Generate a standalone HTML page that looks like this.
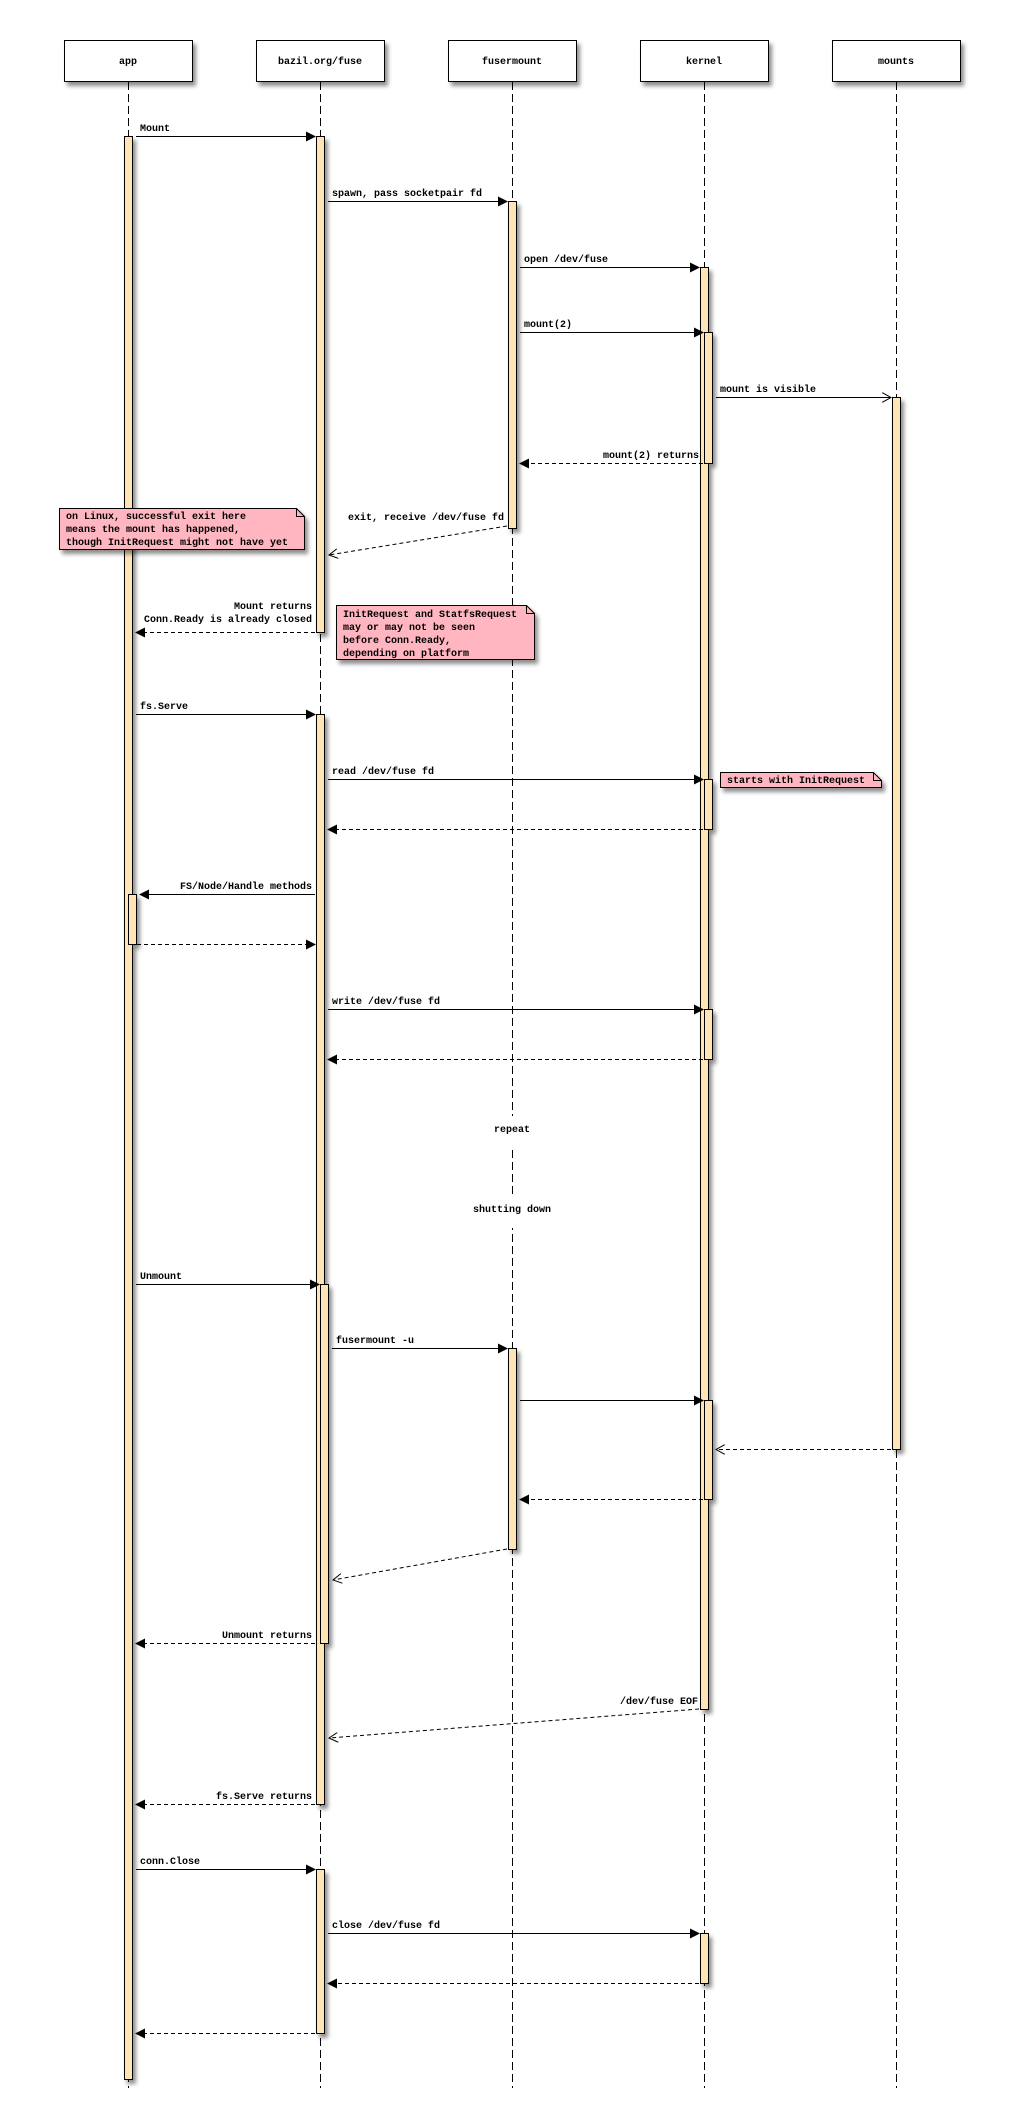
<!DOCTYPE html>
<html><head><meta charset="utf-8"><style>
html,body{margin:0;padding:0;background:#fff}
svg{display:block}
text{font-family:"Liberation Mono",monospace;font-weight:bold;font-size:10px;fill:#000}
</style></head><body>
<svg width="1024" height="2108" viewBox="0 0 1024 2108" xmlns="http://www.w3.org/2000/svg">
<defs>
<filter id="sh" x="-10%" y="-10%" width="130%" height="140%"><feGaussianBlur in="SourceAlpha" stdDeviation="2"/><feOffset dx="3" dy="4"/><feComponentTransfer><feFuncA type="linear" slope="0.45"/></feComponentTransfer><feMerge><feMergeNode/><feMergeNode in="SourceGraphic"/></feMerge></filter>
<marker id="f" markerWidth="10" markerHeight="10" refX="9" refY="5" orient="auto" markerUnits="userSpaceOnUse"><path d="M0,0 L10,5 L0,10 z" fill="#000"/></marker>
<marker id="o" markerWidth="10" markerHeight="10" refX="9" refY="5" orient="auto" markerUnits="userSpaceOnUse"><path d="M0,0 L9,5 L0,10" fill="none" stroke="#000" stroke-width="1"/></marker>
</defs>

<g filter="url(#sh)" fill="#fff" stroke="#000" stroke-width="1">
<rect x="64.5" y="40.5" width="128" height="41"/>
<rect x="256.5" y="40.5" width="128" height="41"/>
<rect x="448.5" y="40.5" width="128" height="41"/>
<rect x="640.5" y="40.5" width="128" height="41"/>
<rect x="832.5" y="40.5" width="128" height="41"/>
</g>
<g text-anchor="middle">
<text x="128" y="64">app</text>
<text x="320" y="64">bazil.org/fuse</text>
<text x="512" y="64">fusermount</text>
<text x="704" y="64">kernel</text>
<text x="896" y="64">mounts</text>
</g>

<g stroke="#000" stroke-width="1" stroke-dasharray="8,4">
<line x1="128.5" y1="82" x2="128.5" y2="2088"/>
<line x1="320.5" y1="82" x2="320.5" y2="2088"/>
<line x1="512.5" y1="82" x2="512.5" y2="2088"/>
<line x1="704.5" y1="82" x2="704.5" y2="2088"/>
<line x1="896.5" y1="82" x2="896.5" y2="2088"/>
</g>

<g fill="#ffe4b5" stroke="#000" stroke-width="1" filter="url(#sh)">
<rect x="124.5" y="136.5" width="8" height="1943"/>
<rect x="128.5" y="894.5" width="8" height="50"/>
<rect x="316.5" y="136.5" width="8" height="496"/>
<rect x="316.5" y="714.5" width="8" height="1090"/>
<rect x="320.5" y="1284.5" width="8" height="359"/>
<rect x="316.5" y="1869.5" width="8" height="164"/>
<rect x="508.5" y="201.5" width="8" height="327"/>
<rect x="508.5" y="1348.5" width="8" height="201"/>
<rect x="700.5" y="267.5" width="8" height="1442"/>
<rect x="704.5" y="332.5" width="8" height="131"/>
<rect x="704.5" y="779.5" width="8" height="50"/>
<rect x="704.5" y="1009.5" width="8" height="50"/>
<rect x="704.5" y="1400.5" width="8" height="99"/>
<rect x="700.5" y="1933.5" width="8" height="50"/>
<rect x="892.5" y="397.5" width="8" height="1052"/>
</g>

<g filter="url(#sh)" fill="#ffb6c1" stroke="#000" stroke-width="1">
<path d="M59.5,508.5 H296.5 L304.5,516.5 V549.5 H59.5 Z"/>
<path d="M336.5,605.5 H526.5 L534.5,613.5 V659.5 H336.5 Z"/>
<path d="M720.5,772.5 H873.5 L881.5,780.5 V787.5 H720.5 Z"/>
</g>
<g fill="none" stroke="#000" stroke-width="1">
<path d="M296.5,508.5 V516.5 H304.5"/>
<path d="M526.5,605.5 V613.5 H534.5"/>
<path d="M873.5,772.5 V780.5 H881.5"/>
</g>
<text x="66" y="519">on Linux, successful exit here</text>
<text x="66" y="532">means the mount has happened,</text>
<text x="66" y="545">though InitRequest might not have yet</text>
<text x="343" y="617">InitRequest and StatfsRequest</text>
<text x="343" y="630">may or may not be seen</text>
<text x="343" y="643">before Conn.Ready,</text>
<text x="343" y="656">depending on platform</text>
<text x="727" y="783">starts with InitRequest</text>

<rect x="480" y="1116" width="64" height="30" fill="#fff"/>
<text x="512" y="1132" text-anchor="middle">repeat</text>
<rect x="460" y="1198" width="104" height="30" fill="#fff"/>
<text x="512" y="1212" text-anchor="middle">shutting down</text>

<g stroke="#000" stroke-width="1" fill="none">
<line x1="136" y1="136.5" x2="315" y2="136.5" marker-end="url(#f)"/>
<line x1="328" y1="201.5" x2="507" y2="201.5" marker-end="url(#f)"/>
<line x1="520" y1="267.5" x2="699" y2="267.5" marker-end="url(#f)"/>
<line x1="520" y1="332.5" x2="703" y2="332.5" marker-end="url(#f)"/>
<line x1="716" y1="397.5" x2="891" y2="397.5" marker-end="url(#o)"/>
<line x1="703" y1="463.5" x2="520" y2="463.5" stroke-dasharray="4,3" marker-end="url(#f)"/>
<line x1="507" y1="526" x2="329" y2="555" stroke-dasharray="4,3" marker-end="url(#o)"/>
<line x1="315" y1="632.5" x2="136" y2="632.5" stroke-dasharray="4,3" marker-end="url(#f)"/>
<line x1="136" y1="714.5" x2="315" y2="714.5" marker-end="url(#f)"/>
<line x1="328" y1="779.5" x2="703" y2="779.5" marker-end="url(#f)"/>
<line x1="703" y1="829.5" x2="328" y2="829.5" stroke-dasharray="4,3" marker-end="url(#f)"/>
<line x1="315" y1="894.5" x2="140" y2="894.5" marker-end="url(#f)"/>
<line x1="137" y1="944.5" x2="315" y2="944.5" stroke-dasharray="4,3" marker-end="url(#f)"/>
<line x1="328" y1="1009.5" x2="703" y2="1009.5" marker-end="url(#f)"/>
<line x1="703" y1="1059.5" x2="328" y2="1059.5" stroke-dasharray="4,3" marker-end="url(#f)"/>
<line x1="136" y1="1284.5" x2="319" y2="1284.5" marker-end="url(#f)"/>
<line x1="332" y1="1348.5" x2="507" y2="1348.5" marker-end="url(#f)"/>
<line x1="520" y1="1400.5" x2="703" y2="1400.5" marker-end="url(#f)"/>
<line x1="891" y1="1449.5" x2="716" y2="1449.5" stroke-dasharray="4,3" marker-end="url(#o)"/>
<line x1="703" y1="1499.5" x2="520" y2="1499.5" stroke-dasharray="4,3" marker-end="url(#f)"/>
<line x1="507" y1="1549" x2="333" y2="1580" stroke-dasharray="4,3" marker-end="url(#o)"/>
<line x1="315" y1="1643.5" x2="136" y2="1643.5" stroke-dasharray="4,3" marker-end="url(#f)"/>
<line x1="699" y1="1709" x2="329" y2="1738" stroke-dasharray="4,3" marker-end="url(#o)"/>
<line x1="315" y1="1804.5" x2="136" y2="1804.5" stroke-dasharray="4,3" marker-end="url(#f)"/>
<line x1="136" y1="1869.5" x2="315" y2="1869.5" marker-end="url(#f)"/>
<line x1="328" y1="1933.5" x2="699" y2="1933.5" marker-end="url(#f)"/>
<line x1="699" y1="1983.5" x2="328" y2="1983.5" stroke-dasharray="4,3" marker-end="url(#f)"/>
<line x1="315" y1="2033.5" x2="136" y2="2033.5" stroke-dasharray="4,3" marker-end="url(#f)"/>
</g>

<text x="140" y="131">Mount</text>
<text x="332" y="196">spawn, pass socketpair fd</text>
<text x="524" y="262">open /dev/fuse</text>
<text x="524" y="327">mount(2)</text>
<text x="720" y="392">mount is visible</text>
<text x="699" y="458" text-anchor="end">mount(2) returns</text>
<text x="504" y="520" text-anchor="end">exit, receive /dev/fuse fd</text>
<text x="312" y="609" text-anchor="end">Mount returns</text>
<text x="312" y="622" text-anchor="end">Conn.Ready is already closed</text>
<text x="140" y="709">fs.Serve</text>
<text x="332" y="774">read /dev/fuse fd</text>
<text x="312" y="889" text-anchor="end">FS/Node/Handle methods</text>
<text x="332" y="1004">write /dev/fuse fd</text>
<text x="140" y="1279">Unmount</text>
<text x="336" y="1343">fusermount -u</text>
<text x="312" y="1638" text-anchor="end">Unmount returns</text>
<text x="698" y="1704" text-anchor="end">/dev/fuse EOF</text>
<text x="312" y="1799" text-anchor="end">fs.Serve returns</text>
<text x="140" y="1864">conn.Close</text>
<text x="332" y="1928">close /dev/fuse fd</text>
</svg>
</body></html>
